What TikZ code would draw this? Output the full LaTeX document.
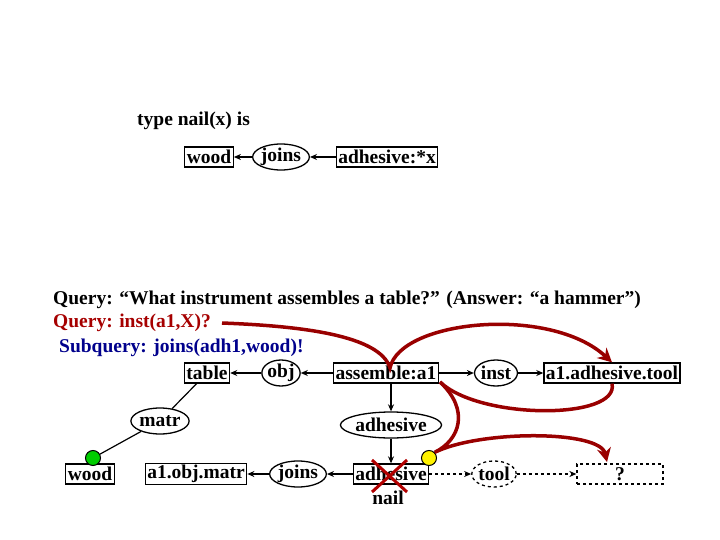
\documentclass[tikz,border=0pt]{standalone}
\usepackage{fontspec}
\setmainfont{Liberation Serif}
\usetikzlibrary{shapes.geometric,arrows.meta}
\begin{document}
\begin{tikzpicture}[x=1pt,y=-1pt,font=\fontsize{19.5}{22}\selectfont\bfseries,
 bx/.style={draw,line width=1.3pt,inner sep=2pt,minimum height=20pt},
 el/.style={draw,ellipse,line width=1.3pt,inner sep=0pt,minimum height=26pt},
 ar/.style={-{Stealth[length=7pt,width=6pt]},line width=1.2pt},
 ln/.style={line width=1.2pt},
 red/.style={draw=red!60!black,line width=3.5pt},
 lbl/.style={anchor=west,inner sep=0pt}]
\useasboundingbox (0,0) rectangle (720,540);
\node[lbl] (t1) at (137,121) {type nail(x) is};
\node[bx] (w0) at (209,157) {wood};
\node[el] (j0) at (281,157) {joins};
\node[bx] (ax) at (387,157) {adhesive:*x};
\draw[ar] (j0) -- (w0);
\draw[ar] (ax) -- (j0);
\node[lbl] (q1) at (53,300) {Query: “What instrument assembles a table?” (Answer: “a hammer”)};
\node[lbl,text=red!65!black] (q2) at (53,323) {Query: inst(a1,X)?};
\node[lbl,text=blue!55!black] (q3) at (59,348) {Subquery: joins(adh1,wood)!};
\node[bx] (tab) at (207,373) {table};
\node[el] (obj) at (281,373) {obj};
\node[bx] (asm) at (386,373) {assemble:a1};
\node[el] (inst) at (496,373) {inst};
\node[bx] (aat) at (612,373) {a1.adhesive.tool};
\node[el] (matr) at (160,421) {matr};
\node[el] (adhe) at (391,425) {adhesive};
\node[bx] (w1) at (90,474) {wood};
\node[draw,fill=green!80!black,circle,minimum size=15pt,inner sep=0pt,line width=1pt] (gc) at (93,458) {};
\node[bx] (aom) at (196,474) {a1.obj.matr};
\node[el] (j1) at (298,474) {joins};
\node[bx] (adb) at (391,474) {adhesive};
\node[inner sep=0pt] (nail) at (388,498) {nail};
\node[el,dashed,minimum width=42pt] (tool) at (494,474) {tool};
\node[bx,dashed,minimum width=86pt] (qm) at (620,474) {?};
\draw[ar] (obj) -- (tab);
\draw[ar] (asm) -- (obj);
\draw[ar] (asm) -- (inst);
\draw[ar] (inst) -- (aat);
\draw[ar] (adhe.north |- asm.south) -- (adhe);
\draw[ar] (adhe) -- (adb);
\draw[ar] (adb) -- (j1);
\draw[ar] (j1) -- (aom);
\draw[ln] (tab) -- (matr);
\draw[ln] (matr) -- (gc);
\draw[ar,dashed] (adb) -- (tool);
\draw[ar,dashed] (tool) -- (qm);
% red X
\draw[red!70!black,line width=3pt] (372,460) -- (407,492) (407,460) -- (372,492);
% red paths
\coordinate (rs) at (222,323);
\coordinate (rm) at (390,368);
\draw[red,-{Stealth[length=14pt,width=14pt]}] (rs) .. controls (300,326) and (380,335) .. (rm)
  .. controls (400,320) and (550,305) .. (aat.north);
\coordinate (rb) at (440,382);
\draw[red] (rb) .. controls (480,420) and (620,420) .. (aat.south);
\node[draw,fill=yellow,circle,minimum size=15pt,inner sep=0pt,line width=1pt] (yc) at (429,458) {};
\draw[red,-{Stealth[length=14pt,width=14pt]}] (rb) .. controls (470,410) and (460,440) .. (yc.north east)
  .. controls (480,430) and (600,430) .. (607,462);
\end{tikzpicture}
\end{document}
